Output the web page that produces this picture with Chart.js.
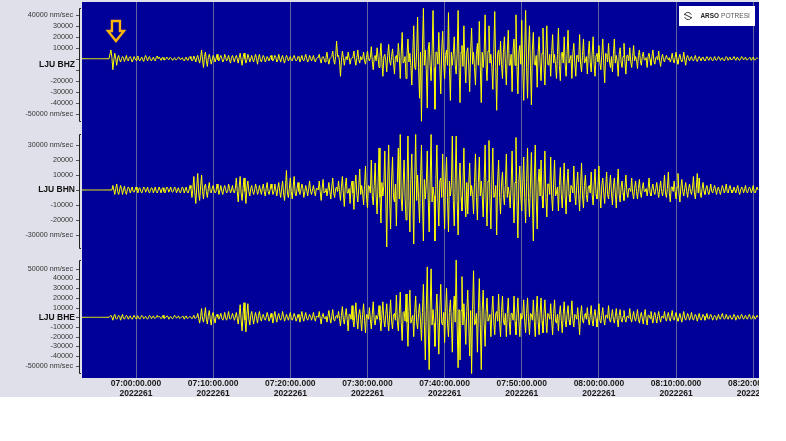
<!DOCTYPE html>
<html>
<head>
<meta charset="utf-8">
<title>LJU seismogram</title>
<script src="https://cdn.jsdelivr.net/npm/chart.js@4"></script>
<style>
  html, body { margin: 0; padding: 0; background: #fff; }
  canvas { display: block; }
</style>
</head>
<body>
<canvas id="seismo" width="759" height="397"></canvas>
<script>
// time axis, minutes after 07:00:00
const startMinute = -7;
const endMinute = 80.75;
const sampleStep = 0.125;
const timeTicks = [0, 10, 20, 30, 40, 50, 60, 70, 80];
const timeLabels = ["07:00:00.000", "07:10:00.000", "07:20:00.000", "07:30:00.000", "07:40:00.000",
  "07:50:00.000", "08:00:00.000", "08:10:00.000", "08:20:00.000"];
const dayLabel = "2022261";
const arrivalMinute = -2.6;

// amplitudes, thousands of nm/sec, one row per 10 minutes
const bhzValues = [
  0,0,0,0,0,0,0,0,0,0,0,0,0,0,0,0,0,0,0,0,0,0,0,0,0,0,0,0,0,0,8,1,-10,-1,5,0,-6,1,3,-1,-3,0,2,1,-2.5,0,3,-1,-2,1,2,0,-3,-1,2,0,-1.5,1,2.5,-1,-2,0,1.5,-1,-2.5,1,3,0,-2,1,2,-1,-2,0,1.5,-1,-2,1,2.5,0,
  1.5,0,-1.5,1,1,-1,-1,0,1.5,0,-1,1,1,0,-1.5,0,1,-1,-1,0,1.5,1,-1,0,1,-1,-2,0,1.5,-1,-1.5,1,2,0,-2,-1,2.5,0,-3,1,3,-1,-4,1,8,-1,-8,2,6,-2,-7,1,4,0,-5,-1,3,1,-3,0,4,-1,-2,1,3,0,-3,-1,4,1,-2,0,3,-1,-4,1,3,0,-3,1,
  3,0,-4,1,5,-1,-6,1,5,0,-4,-1,4,1,-3,0,3,-1,-3,1,4,0,-5,1,4,-1,-3,0,3,1,-3,-1,2,0,-2,1,3,-1,-2,0,3,1,-3,-1,4,0,-3,1,3,-1,-4,0,3,1,-2,0,2,-1,-2,1,3,0,-2,-1,2,1,-3,0,3,-1,-2,1,4,0,-3,-1,3,1,-2,0,
  3,-1,-3,0,1,1,4,-1,-4,1,2,0,-3,1,6,-1,-5,0,1,2,7,-1,-5,2,16,2,3,-2,-16,-2,7,1,-6,0,2,-1,6,1,-5,0,1,2,7,-1,-6,1,8,-1,-4,2,-1,0,6,-2,-5,1,7,0,-2,1,11,-2,-10,1,3,-2,10,1,-8,2,14,-3,-16,2,4,-2,-12,3,13,-2,
  -6,2,9,-3,-14,2,3,-3,14,2,-18,4,24,-4,-3,2,-18,4,18,-3,5,-6,-24,5,30,-8,-10,6,38,-8,-36,6,-57,8,46,-6,8,-10,-45,8,15,-6,-20,5,44,-8,-46,6,6,-5,24,-6,-32,7,25,-4,-18,3,8,-6,42,-8,-38,6,-6,4,20,-6,-14,5,44,-8,-40,6,12,-7,30,-5,-22,6,
  10,-6,-30,7,28,-5,6,-8,-24,4,14,-6,34,-7,-40,6,-8,5,40,-6,-20,7,30,-4,4,-8,-28,6,43,-7,-47,5,8,-6,16,-5,-18,6,20,-4,-24,5,26,-6,-6,4,-30,8,18,-6,40,-7,-32,6,12,-5,35,-8,-38,6,44,-8,-36,7,30,-6,-42,8,24,-5,-6,3,-26,6,20,-4,-20,5,28,-6,
  -24,6,30,-5,-6,4,-16,5,22,-4,4,-5,-18,4,28,-6,-20,5,6,-4,20,-5,-16,4,26,-4,-4,3,-18,5,14,-4,-16,3,3,-3,22,-5,-12,3,18,-4,-2,2,-14,4,16,-3,-12,4,20,-5,-16,3,5,-3,12,-4,-10,3,18,-4,-22,5,4,-3,14,-3,-8,2,-12,4,18,-4,3,-3,-16,4,10,-3,
  -8,2,14,-3,-14,3,3,-2,10,-3,-8,2,12,-2,2,-1,-9,3,8,-2,-6,2,6,-1,-1,1,-8,2,5,-1,-6,2,8,-2,-5,1,2,-1,7,-2,-7,1,4,-1,-3,1,3,0,-1,1,-3,0,5,-1,-4,1,6,-1,-5,1,4,-1,-3,0,6,-1,-6,1,3,0,-2,1,2,-1,-2,0,3,-1,-2.5,0,
  2,0,-2,1,1.5,-1,-2,0,2,0,-1.5,1,1.5,-1,-2,0,2,-1,-1.5,0,2,1,-1.5,0,1,-1,-2,0,2,1,-1.5,0,1.5,-1,-1,0,2,0,-1.5,1,1,-1,-1.5,0,2,1,-1,0,1.5,-1,-1,0,1,1,-1.5,0,1.5,-1,-1,0,1,0
];
const bhnValues = [
  0,0,0,0,0,0,0,0,0,0,0,0,0,0,0,0,0,0,0,0,0,0,0,0,0,0,0,0,0,0,0,0,3,0,-3,1,4,-1,-3,0,3,1,-3,0,2.5,-1,-3,0,2,1,-2,0,2,-1,-1.5,0,2,0,-2,1,1.5,-1,-2,0,2,1,-1.5,0,2,-1,-2,0,1.5,1,-2,0,2,-1,-2,0,
  2,0,-2,1,1.5,-1,-2,0,2,1,-1.5,0,2,-1,-1.5,0,2,1,-2,0,1.5,-1,-2,0,2,1,-2,0,2,-1,-2,0,3,1,-5,1,9,-2,-9,2,11,-2,-7,2,10,-1,-6,2,4,-1,-5,1,5,-1,-2,1,3,0,-2,-1,4,1,-3,0,3,-1,-3,1,3,0,-2,-1,4,1,-2,0,3,-1,-2,1,
  8,-1,-8,2,9,-2,-7,1,8,-1,-9,2,6,-1,-4,1,3,-1,-3,0,4,1,-3,-1,3,0,-3,1,4,-1,-4,1,5,-1,-3,0,4,1,-3,-1,4,0,-4,1,5,-1,-5,1,6,-2,-7,2,13,-2,-5,1,8,-1,-6,2,9,-2,-4,1,5,-1,-3,0,4,1,-5,-1,3,0,-4,1,6,-1,-3,0,
  3,-1,-4,1,1,0,6,-1,-7,1,7,-2,-1,1,-4,0,5,-1,-6,2,8,-2,-5,1,2,-1,6,-1,-7,2,9,-2,-11,2,8,-2,-2,1,-9,2,6,-2,-13,3,10,-3,-8,2,14,-3,3,-2,-10,3,16,-4,-12,3,2,-2,20,-4,-10,3,18,-4,-16,4,28,-5,-22,5,-4,3,26,-6,-38,6,30,-6,
  -26,6,22,-5,-8,4,-24,6,28,-6,37,-6,-14,4,20,-5,-20,5,36,-7,-28,7,24,-6,-36,7,37,-7,10,-5,-22,6,30,-6,-34,7,-6,4,26,-6,-28,6,37,-8,2,-4,-34,7,30,-6,-24,6,8,-5,24,-5,-26,6,22,-5,-28,6,-4,3,36,-7,-24,6,36,-7,-30,6,18,-5,-14,4,28,-6,-18,5,
  -16,4,18,-4,3,-3,-16,5,24,-5,-20,5,22,-4,6,-4,-18,5,30,-6,-24,6,33,-6,-26,6,28,-5,-4,3,-30,6,20,-5,-16,4,12,-3,-10,3,24,-5,2,-3,-12,4,26,-5,-22,5,35,-7,-32,6,16,-4,-14,4,22,-5,-22,5,28,-5,-18,4,25,-6,-34,6,30,-6,-26,5,14,-4,20,-4,-12,3,
  26,-5,-18,4,4,-3,22,-4,-14,4,20,-4,-2,2,-14,3,15,-3,-12,3,18,-4,-16,4,14,-3,-8,3,2,-2,16,-3,-10,3,12,-3,-14,3,18,-4,-12,3,10,-3,-8,2,3,-2,12,-3,-10,3,14,-3,-6,2,16,-3,-12,3,8,-2,-9,2,12,-3,-6,2,10,-2,-10,2,8,-2,-12,3,14,-3,-8,2,
  6,-2,-7,2,10,-2,-5,1,1,-1,8,-2,-6,1,6,-1,-6,1,7,-2,-5,1,5,-1,-1,1,-4,1,8,-2,-4,1,4,-1,-3,1,5,-1,-5,1,6,-1,-4,1,10,-2,-5,1,12,-2,-8,2,2,-1,6,-1,-6,2,11,-2,-8,2,7,-1,-4,1,5,-1,-5,1,4,-1,-3,1,9,-2,-6,1,11,-2,
  8,-2,-5,1,5,-1,-3,1,3,-1,-3,0,4,-1,-2,1,3,0,-3,1,2,-1,-3,0,3,1,-2,0,4,-1,-2,1,3,0,-2,-1,2,0,-2,1,3,-1,-3,0,2,1,-2,0,3,-1,-2,0,2,1,-2,0,3,-1,-2,0,2,0
];
const bheValues = [
  0,0,0,0,0,0,0,0,0,0,0,0,0,0,0,0,0,0,0,0,0,0,0,0,0,0,0,0,0,0,2,0,-3,1,3,-1,-2,0,2,1,-3,0,3,-1,-2,0,2,1,-2,0,1.5,-1,-2,0,2,0,-1.5,1,1.5,-1,-2,0,2,1,-1.5,0,1,-1,-2,0,2,1,-1.5,0,1.5,-1,-1,0,2,0,
  1,0,-1.5,0,2,-1,-1,0,1.5,1,-2,0,1,-1,-1.5,0,2,1,-1,0,1.5,-1,-1,0,1,1,-2,0,1.5,-1,-1,0,1,1,-1.5,0,2,-1,-1,0,4,-1,-6,1,9,-2,-5,1,10,-2,-7,2,7,-2,-8,2,5,-1,-6,1,3,0,-2,1,4,-1,-3,0,5,-1,-3,1,6,-1,-2,0,4,1,-3,0,
  5,-1,-7,2,13,-3,-14,3,15,-3,-15,3,14,-2,-8,2,6,-1,-7,1,5,-1,-6,2,6,-1,-4,1,3,-1,-3,0,5,1,-4,-1,4,0,-6,1,6,-1,-5,1,4,-1,-3,0,6,1,-4,-1,3,0,-3,1,5,-1,-3,0,4,1,-4,-1,3,0,-5,1,6,-1,-4,1,5,-1,-3,0,3,1,-3,0,
  5,-1,-4,1,1,0,6,-1,-7,1,4,-1,-1,1,-5,1,7,-1,-6,1,8,-2,-4,1,2,-1,6,-1,-9,2,11,-2,-7,2,9,-2,-14,3,3,-2,12,-3,-10,3,15,-3,-12,3,8,-2,-14,3,14,-3,-16,3,2,-2,10,-2,-12,3,16,-3,-8,2,-2,2,12,-3,-14,3,16,-3,-10,3,14,-3,-14,3,
  18,-4,-12,3,4,-3,23,-4,-14,4,26,-5,-24,5,6,-4,24,-5,-30,6,28,-6,-2,2,-20,5,22,-5,-12,4,14,-4,-24,5,34,-7,-44,7,52,-9,-54,8,50,-8,8,-6,-30,6,24,-5,-38,7,34,-6,-8,5,-26,6,30,-6,-20,5,18,-4,-36,6,22,-5,59,-8,-52,8,-44,7,42,-8,14,-5,-28,6,
  28,-6,-40,7,-58,8,48,-8,-6,4,-36,7,40,-7,-54,8,28,-6,-30,5,20,-4,-4,3,-20,5,22,-5,-18,4,6,-4,24,-5,-20,5,22,-4,-8,4,-20,4,20,-4,-18,4,4,-3,22,-5,-18,4,20,-4,-20,4,-2,2,18,-4,-16,4,20,-4,-18,4,3,-3,18,-4,-20,5,22,-4,-18,4,20,-4,-16,4,
  18,-4,-16,4,2,-2,14,-3,-18,4,18,-4,-6,3,-14,3,12,-3,-16,3,16,-3,-10,3,12,-3,-8,2,17,-3,-10,3,2,-2,10,-3,-18,3,12,-3,-6,2,4,-2,10,-2,-8,2,12,-3,-9,2,8,-2,-10,2,14,-3,-6,2,10,-2,-8,2,2,-1,12,-2,-5,1,8,-2,-6,1,9,-2,-10,2,8,-2,
  -5,1,7,-2,-5,1,1,-1,9,-2,-5,1,6,-1,-4,1,8,-2,-6,1,5,-1,-7,2,8,-2,-8,2,2,-1,6,-1,-6,2,5,-1,-6,1,6,-1,-5,1,1,-1,6,-1,-4,1,5,-1,-4,1,7,-1,-3,1,5,-1,-4,0,4,-1,-5,1,6,-1,-3,0,4,1,-3,0,5,-1,-3,0,3,1,-4,0,
  4,-1,-3,0,3,1,-3,0,4,-1,-2,1,3,0,-3,0,2,1,-3,0,3,-1,-2,1,4,0,-2,-1,3,0,-2,1,2,-1,-2,0,3,1,-3,0,2,-1,-2,1,3,0,-2,0,2,-1,-2,1,3,0,-2,-1,2,1,-2,0,2,0
];

// y axis ticks, nm/sec
const bhzTicks = [40000, 30000, 20000, 10000, 0, -10000, -20000, -30000, -40000, -50000];
const bhnTicks = [30000, 20000, 10000, 0, -10000, -20000, -30000];
const bheTicks = [50000, 40000, 30000, 20000, 10000, 0, -10000, -20000, -30000, -40000, -50000];

const channels = [
  { id: "yZ", name: "LJU BHZ", values: bhzValues, ticks: bhzTicks, min: -60400, max: 51700, weight: 123,
    hidden: [0, -10000], nameAt: -5500, bracket: [46000, -57000] },
  { id: "yN", name: "LJU BHN", values: bhnValues, ticks: bhnTicks, min: -42000, max: 43300, weight: 128,
    hidden: [0], nameAt: 0, bracket: [37300, -38700] },
  { id: "yE", name: "LJU BHE", values: bheValues, ticks: bheTicks, min: -62600, max: 66300, weight: 125,
    hidden: [0], nameAt: 0, bracket: [59000, -57400] }
];

function tickText(ch, v) {
  if (ch.hidden.includes(v)) return "";
  const top = ch.ticks[0], bottom = ch.ticks[ch.ticks.length - 1];
  return v === top || v === bottom ? v + " nm/sec" : String(v);
}

function yAxis(ch) {
  return {
    type: "linear",
    position: "left",
    stack: "traces",
    stackWeight: ch.weight,
    min: ch.min,
    max: ch.max,
    afterBuildTicks: (s) => { s.ticks = ch.ticks.map((v) => ({ value: v })); },
    afterFit: (s) => { s.width = 82; s.paddingTop = 0; s.paddingBottom = 0; },
    grid: { display: false, drawTicks: false },
    border: { display: false },
    ticks: {
      autoSkip: false,
      padding: 9,
      color: "#333",
      font: { family: "Liberation Sans", size: 7.2 },
      callback: (v) => tickText(ch, v)
    }
  };
}

const scales = {
  x: {
    type: "linear",
    min: startMinute,
    max: endMinute,
    afterBuildTicks: (s) => { s.ticks = timeTicks.map((v) => ({ value: v })); },
    afterFit: (s) => { s.height = 19; s.paddingLeft = 0; s.paddingRight = 0; },
    grid: { color: "#62629f", lineWidth: 1, drawTicks: false },
    border: { display: false },
    ticks: {
      autoSkip: false,
      maxRotation: 0,
      padding: 1,
      color: "#1a1a1a",
      font: { family: "Liberation Sans", size: 8.5, weight: "bold", lineHeight: 1.12 },
      callback: (v) => [timeLabels[timeTicks.indexOf(v)], dayLabel]
    }
  }
};
// the stack fills from the bottom, so the last channel goes in first
[...channels].reverse().forEach((ch) => { scales[ch.id] = yAxis(ch); });

const seismoDecor = {
  id: "seismoDecor",
  beforeDraw(chart) {
    const { ctx, chartArea: a } = chart;
    ctx.save();
    ctx.fillStyle = "#e0e0ea";
    ctx.fillRect(0, 0, chart.width, chart.height);
    ctx.fillStyle = "#000099";
    ctx.fillRect(a.left, a.top, a.right - a.left, a.bottom - a.top);
    ctx.restore();
  },
  afterDraw(chart) {
    const { ctx } = chart;
    ctx.save();
    channels.forEach((ch) => {
      const s = chart.scales[ch.id];
      const top = Math.round(s.getPixelForValue(ch.bracket[0])) + 0.5;
      const bottom = Math.round(s.getPixelForValue(ch.bracket[1])) + 0.5;
      ctx.strokeStyle = "#222";
      ctx.lineWidth = 1;
      ctx.beginPath();
      ctx.moveTo(81, top); ctx.lineTo(79.5, top); ctx.lineTo(79.5, bottom); ctx.lineTo(81, bottom);
      ctx.stroke();
      ctx.strokeStyle = "#555";
      ch.ticks.forEach((v) => {
        const y = Math.round(s.getPixelForValue(v)) + 0.5;
        ctx.beginPath(); ctx.moveTo(76, y); ctx.lineTo(79, y); ctx.stroke();
      });
      ctx.fillStyle = "#111";
      ctx.font = "bold 8.5px 'Liberation Sans'";
      ctx.textAlign = "right";
      ctx.textBaseline = "middle";
      ctx.fillText(ch.name, 75, s.getPixelForValue(ch.nameAt));
    });

    // arrival arrow
    const ax = chart.scales.x.getPixelForValue(arrivalMinute);
    ctx.strokeStyle = "#fbb30d";
    ctx.lineWidth = 2.4;
    ctx.lineJoin = "miter";
    ctx.beginPath();
    ctx.moveTo(ax - 4, 21); ctx.lineTo(ax + 4, 21); ctx.lineTo(ax + 4, 31); ctx.lineTo(ax + 8, 31);
    ctx.lineTo(ax, 41); ctx.lineTo(ax - 8, 31); ctx.lineTo(ax - 4, 31);
    ctx.closePath();
    ctx.stroke();

    // logo box
    ctx.fillStyle = "#fff";
    ctx.fillRect(679, 6, 76, 20);
    ctx.strokeStyle = "#333";
    ctx.lineWidth = 1;
    ctx.beginPath();
    ctx.arc(688, 16, 3.5, 0.3, 2.8);
    ctx.stroke();
    ctx.beginPath();
    ctx.arc(688, 16, 3.5, 3.4, 5.9);
    ctx.stroke();
    ctx.beginPath();
    ctx.moveTo(684, 14); ctx.lineTo(692, 18);
    ctx.stroke();
    ctx.textAlign = "left";
    ctx.textBaseline = "middle";
    ctx.fillStyle = "#222";
    ctx.font = "bold 6.4px 'Liberation Sans'";
    ctx.fillText("ARSO", 700.5, 16.5);
    ctx.fillStyle = "#555";
    ctx.font = "6.6px 'Liberation Sans'";
    ctx.fillText("POTRESI", 721, 16.5);
    ctx.restore();
  }
};

new Chart(document.getElementById("seismo").getContext("2d"), {
  type: "line",
  data: {
    datasets: channels.map((ch) => ({
      label: ch.name,
      yAxisID: ch.id,
      data: ch.values.map((v, i) => ({ x: startMinute + i * sampleStep, y: v * 1000 })),
      borderColor: "#ffff00",
      borderWidth: 1,
      pointRadius: 0,
      tension: 0
    }))
  },
  options: {
    responsive: false,
    animation: false,
    devicePixelRatio: 1,
    parsing: false,
    layout: { padding: { top: 2, right: 0, left: 0, bottom: 0 } },
    plugins: { legend: { display: false }, tooltip: { enabled: false } },
    scales: scales
  },
  plugins: [seismoDecor]
});
</script>
</body>
</html>
